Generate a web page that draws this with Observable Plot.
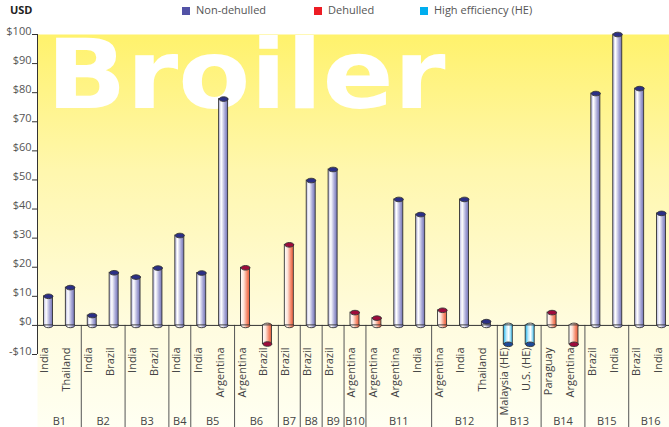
<!DOCTYPE html>
<html><head><meta charset="utf-8">
<script src="https://cdn.jsdelivr.net/npm/d3@7"></script>
<script src="https://cdn.jsdelivr.net/npm/@observablehq/plot@0.6"></script>
<style>
body{margin:0;background:#fff;font-family:"Open Sans",sans-serif;}
#legend{position:relative;height:22px;width:669px;font-size:11px;color:#555;}
#legend span{position:absolute;top:3px;line-height:14px;white-space:nowrap;}
#legend i{position:absolute;top:7px;width:8px;height:8px;}
#legend .usd{left:10px;font-weight:bold;color:#222;}
svg{display:block;}
</style></head><body>
<div id="legend"></div>
<div id="chart"></div>
<script>
// ---- data ----
const groups    = ["B1","B1","B2","B2","B3","B3","B4","B5","B5","B6","B6","B7","B8","B9","B10","B11","B11","B11","B12","B12","B12","B13","B13","B14","B14","B15","B15","B16","B16"];
const countries = ["India","Thailand","India","Brazil","India","Brazil","India","India","Argentina","Argentina","Brazil","Brazil","Brazil","Brazil","Argentina","Argentina","Argentina","India","Argentina","India","Thailand","Malaysia (HE)","U.S. (HE)","Paraguay","Argentina","Brazil","India","Brazil","India"];
const values    = [10,13,3.4,18.1,16.6,19.7,30.9,18,77.8,19.8,-6.4,27.7,49.8,53.6,4.4,2.5,43.3,38.1,5.2,43.3,1.3,-6.5,-6.5,4.4,-6.5,79.7,100,81.4,38.5];
const types     = ["N","N","N","N","N","N","N","N","N","D","D","D","N","N","D","D","N","N","D","N","N","H","H","D","D","N","N","N","N"];
const yTicks    = [-10,0,10,20,30,40,50,60,70,80,90,100];
const legendItems = [
  {label:"Non-dehulled", color:"#5252a6", left:182},
  {label:"Dehulled", color:"#ed1c24", left:314},
  {label:"High efficiency (HE)", color:"#00aeef", left:420}
];
const typeStyle = {
  N:{grad:"gN", cap:"#2b2f86"},
  D:{grad:"gD", cap:"#9e0b3c"},
  H:{grad:"gH", cap:"#1d4a9a"}
};

// ---- legend ----
const lg = document.getElementById("legend");
lg.innerHTML = `<span class="usd">USD</span>` + legendItems.map(d =>
  `<i style="left:${d.left}px;background:${d.color}"></i><span style="left:${d.left+14}px">${d.label}</span>`).join("");

const data = countries.map((c,i)=>({i, country:c, value:values[i], type:types[i], group:groups[i]}));
const boundaries = groups.map((g,i)=> i>0 && g!==groups[i-1] ? i-0.5 : null).filter(d=>d!==null);
const groupNames = [...new Set(groups)];
const groupData = groupNames.map(g => ({name:g, center: d3.mean(data.filter(d=>d.group===g), d=>d.i)}));

function ellipse(rx, ry){
  const k = 0.5523;
  return {draw(ctx){
    ctx.moveTo(rx,0);
    ctx.bezierCurveTo(rx,k*ry,k*rx,ry,0,ry);
    ctx.bezierCurveTo(-k*rx,ry,-rx,k*ry,-rx,0);
    ctx.bezierCurveTo(-rx,-k*ry,-k*rx,-ry,0,-ry);
    ctx.bezierCurveTo(k*rx,-ry,rx,-k*ry,rx,0);
    ctx.closePath();
  }};
}
const capSym = ellipse(4.5, 2.3);
const fmt = d => d < 0 ? "-$" + (-d) : "$" + d;

const barMarks = [];
for (const t of ["N","D","H"]) {
  const sub = data.filter(d => d.type === t);
  const st = typeStyle[t];
  barMarks.push(
    Plot.dot(sub, {x:"i", y:()=>0, symbol:capSym, fill:`url(#${st.grad})`, stroke:"#333", strokeWidth:0.9}),
    Plot.rect(sub, {x1:d=>d.i-0.5, x2:d=>d.i+0.5, y1:()=>0, y2:"value", insetLeft:6.45, insetRight:6.45, fill:`url(#${st.grad})`, stroke:"#333", strokeWidth:0.9}),
    Plot.dot(sub, {x:"i", y:"value", symbol:capSym, fill:st.cap, stroke:"#333", strokeWidth:0.9})
  );
}

const chart = Plot.plot({
  width:669, height:405,
  marginLeft:37, marginRight:0, marginTop:12, marginBottom:0,
  style:{fontFamily:"Open Sans", fontSize:"11px", background:"transparent", overflow:"visible"},
  x:{domain:[-0.5,28.5], range:[37,672], axis:null},
  y:{domain:[-10,100], range:[332,12], axis:null},
  marks:[
    Plot.frame({fill:"url(#bg)", stroke:"none"}),
    Plot.text(["Broiler"], {frameAnchor:"top-left", text:d=>d, dx:9, dy:5, fontSize:96, fontWeight:"bold", fontFamily:"DejaVu Sans", fill:"#fff", textAnchor:"start", lineAnchor:"top", className:"broiler"}),
    Plot.axisY(yTicks, {tickSize:5, tickFormat:()=>"", stroke:"#333", label:null}),
    Plot.text(yTicks, {y:d=>d, text:fmt, frameAnchor:"left", textAnchor:"end", dx:-6, dy:-3.5, fill:"#555", fontSize:11}),
    Plot.ruleX([-0.5], {y1:-10, y2:100, stroke:"#333"}),
    Plot.ruleX(boundaries, {x:d=>d, y1:()=>0, y2:()=>-37, stroke:"#555"}),
    Plot.ruleY([0], {stroke:"#333"}),
    Plot.text(data, {x:"i", text:"country", rotate:-90, textAnchor:"end", frameAnchor:"bottom", dy:-80, fill:"#444", fontSize:11}),
    Plot.text(groupData, {x:"center", text:"name", frameAnchor:"bottom", dy:-2.5, fill:"#444", fontSize:11}),
    ...barMarks
  ]
});

const svg = d3.select(chart);
const defs = svg.insert("defs", ":first-child");
function grad(id, stops, vertical){
  const g = defs.append("linearGradient").attr("id", id)
    .attr("x1",0).attr("y1",0).attr("x2", vertical?0:1).attr("y2", vertical?1:0);
  stops.forEach(([o,c]) => g.append("stop").attr("offset", o).attr("stop-color", c));
}
grad("gN", [[0,"#b4b4de"],[0.3,"#ffffff"],[0.7,"#a6a6d6"],[1,"#7272b4"]]);
grad("gD", [[0,"#ffffff"],[0.35,"#fde4da"],[0.75,"#f48466"],[1,"#e8603e"]]);
grad("gH", [[0,"#1ab4ee"],[0.35,"#bfeafb"],[0.6,"#ffffff"],[1,"#38bdf0"]]);
grad("bg", [[0,"#fff26c"],[0.35,"#fff7ae"],[0.75,"#fffce0"],[1,"#fffff2"]], true);
svg.selectAll(".broiler text").attr("textLength", 399).attr("lengthAdjust", "spacingAndGlyphs");

document.getElementById("chart").appendChild(chart);
</script>
</body></html>
